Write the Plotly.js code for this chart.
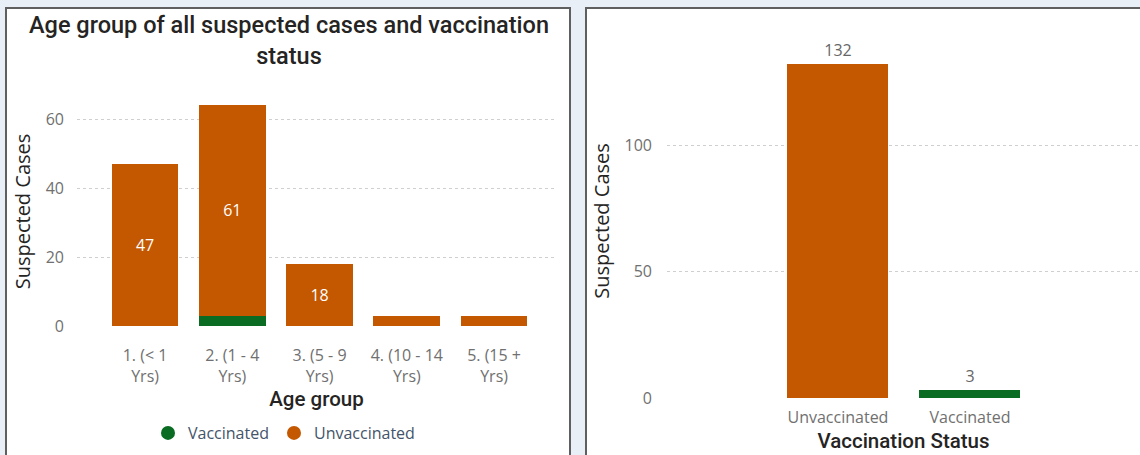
<!DOCTYPE html>
<html>
<head>
<meta charset="utf-8">
<script src="https://cdn.plot.ly/plotly-3.0.1.min.js"></script>
<style>html,body{margin:0;padding:0;background:#E9EFF6;}#chart{width:1140px;height:455px;}</style>
</head>
<body>
<div id="chart"></div>
<script>
// ---- data ----
const ageGroups = ['1. (< 1<br>Yrs)', '2. (1 - 4<br>Yrs)', '3. (5 - 9<br>Yrs)', '4. (10 - 14<br>Yrs)', '5. (15 +<br>Yrs)'];
const vaccinatedByAge = [0, 3, 0, 0, 0];
const unvaccinatedByAge = [47, 61, 18, 3, 3];
const statusCategories = ['Unvaccinated', 'Vaccinated'];
const statusTotals = [132, 3];
const seriesNames = ['Vaccinated', 'Unvaccinated'];

const ORANGE = '#C45800';
const GREEN = '#0A6B23';
const TICK = '#707070';
const DARK = '#252423';
const W = 1140, H = 455;
const px = v => v / W;
const py = v => 1 - v / H;

const traces = [
  {type:'bar', x: ageGroups, y: vaccinatedByAge, name: seriesNames[0], marker:{color: GREEN},
   xaxis:'x', yaxis:'y', showlegend:false, hoverinfo:'x+y'},
  {type:'bar', x: ageGroups, y: unvaccinatedByAge, name: seriesNames[1], marker:{color: ORANGE},
   xaxis:'x', yaxis:'y', showlegend:false,
   text: unvaccinatedByAge.map(v => v >= 10 ? String(v) : ''),
   textposition:'inside', insidetextanchor:'middle', constraintext:'none',
   textfont:{family:'Open Sans', size:16, color:'#FFFFFF'}},
  // legend entries (circle symbols)
  {type:'scatter', mode:'markers', x:[null], y:[null], name: seriesNames[0], xaxis:'x', yaxis:'y',
   marker:{symbol:'circle', size:14, color: GREEN}},
  {type:'scatter', mode:'markers', x:[null], y:[null], name: seriesNames[1], xaxis:'x', yaxis:'y',
   marker:{symbol:'circle', size:14, color: ORANGE}},
  {type:'bar', x: statusCategories, y: statusTotals, xaxis:'x2', yaxis:'y2', showlegend:false,
   marker:{color:[ORANGE, GREEN]},
   text: statusTotals.map(String), textposition:'outside', cliponaxis:false,
   textfont:{family:'Open Sans', size:16, color:'#666666'}}
];

const gridY = {showgrid:true, gridcolor:'#CFCFCF', gridwidth:1, griddash:'dot', zeroline:false,
  showline:false, ticks:'', tickfont:{family:'Open Sans', size:16, color:TICK}, fixedrange:true, automargin:false};
const baseX = {type:'category', showgrid:false, zeroline:false, showline:false, ticks:'',
  tickfont:{family:'Open Sans', size:16, color:TICK}, fixedrange:true, automargin:false};

const layout = {
  width: W, height: H,
  margin:{l:0, r:0, t:0, b:0},
  paper_bgcolor:'#E9EFF6',
  plot_bgcolor:'#FFFFFF',
  barmode:'stack',
  bargap:0.235,
  title:{text:'Age group of all suspected cases and vaccination<br>status', x: px(289), xanchor:'center',
    xref:'paper', y: py(33), yanchor:'top', yref:'paper',
    font:{family:'Roboto', size:23.5, color:DARK, weight:500}},
  showlegend:true,
  legend:{orientation:'h', traceorder:'normal', x: px(284), xanchor:'center', y: py(433), yanchor:'middle',
    font:{family:'Open Sans', size:16, color:'#44546A'}, bgcolor:'rgba(0,0,0,0)', itemwidth:30, tracegroupgap:0},
  xaxis: Object.assign({}, baseX, {domain:[px(77), px(556)], range:[-0.78, 4.71], anchor:'y',
    ticklabelstandoff: 18,
    title:{text:'Age group', standoff: 4, font:{family:'Roboto', size:20.5, color:DARK, weight:500}}}),
  yaxis: Object.assign({}, gridY, {domain:[py(326), py(97)], range:[0, 66.4], dtick:20, anchor:'x',
    ticklabelstandoff: 12,
    title:{text:'Suspected Cases', standoff: 9, font:{family:'Open Sans', size:20, color:DARK}}}),
  xaxis2: Object.assign({}, baseX, {domain:[px(667), 1], range:[-1.295, 2.288], anchor:'y2',
    ticklabelstandoff: 8,
    title:{text:'Vaccination Status', standoff: 6, font:{family:'Roboto', size:20.5, color:DARK, weight:500}}}),
  yaxis2: Object.assign({}, gridY, {domain:[py(398), py(44)], range:[0, 140], dtick:50, anchor:'x2',
    ticklabelstandoff: 14,
    title:{text:'Suspected Cases', standoff: 9, font:{family:'Open Sans', size:20, color:DARK}}}),
  shapes:[
    {type:'rect', xref:'paper', yref:'paper', x0:px(6), x1:px(570), y0:py(8), y1:-0.1,
     line:{color:'#5F5F5F', width:2}, fillcolor:'#FFFFFF', layer:'below'},
    {type:'rect', xref:'paper', yref:'paper', x0:px(586), x1:1.1, y0:py(8), y1:-0.1,
     line:{color:'#5F5F5F', width:2}, fillcolor:'#FFFFFF', layer:'below'}
  ]
};

Plotly.newPlot('chart', traces, layout, {displayModeBar:false, staticPlot:true});
</script>
</body>
</html>
